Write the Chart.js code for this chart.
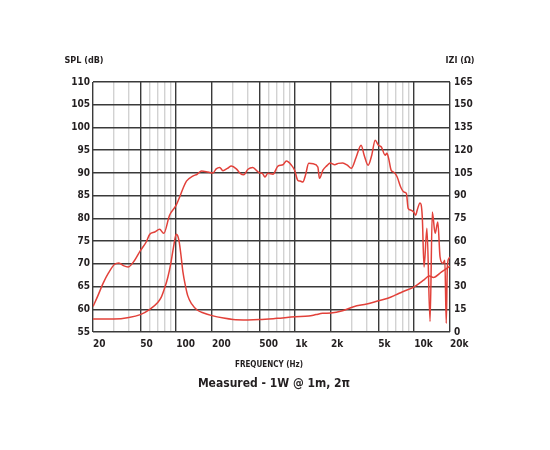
<!DOCTYPE html>
<html>
<head>
<meta charset="utf-8">
<script src="https://cdn.jsdelivr.net/npm/chart.js@4/dist/chart.umd.min.js"></script>
<style>
  html, body { margin: 0; padding: 0; background: #fff; }
  #wrap { width: 550px; height: 450px; }
</style>
</head>
<body>
<div id="wrap"><canvas id="chart" width="550" height="450"></canvas></div>
<script>
// frequency response (Hz / dB)
const splFreq = [20, 22, 24.3, 27, 30.4, 33, 36, 39.4, 44.8, 50, 56, 60, 66, 72.6, 78.6, 88, 100, 107, 115, 122,
  138, 150, 163, 185, 204, 217, 232, 247, 270, 291, 320, 345, 370, 401, 440, 470, 503, 530, 557, 591,
  651, 716, 790, 843, 930, 989, 1050, 1100, 1160, 1220, 1300, 1420, 1550, 1600, 1710, 1850, 1970, 2150, 2300, 2510,
  2740, 2960, 3260, 3580, 3800, 4100, 4400, 4700, 5000, 5300, 5700, 5900, 6100, 6400, 6700, 6900, 7200, 7700, 8200, 8600,
  8900, 9400, 9900, 10300, 10600, 11200, 11700, 12100, 12800, 13600, 14200, 15000, 15800, 16500, 17400, 18100, 18600, 19000, 19600, 20000];
const splDb = [60.6, 63, 65.7, 68, 69.9, 70.2, 69.6, 69.3, 70.8, 72.9, 74.8, 76.5, 77, 77.6, 76.7, 80.7, 82.9, 84.7, 86.8, 88.2,
  89.3, 89.7, 90.4, 90.2, 90.0, 90.9, 91.2, 90.5, 91.0, 91.5, 90.9, 89.9, 89.6, 90.8, 91.2, 90.6, 90.0, 89.9, 89.1, 89.9,
  89.7, 91.5, 91.8, 92.6, 91.7, 90.6, 88.4, 88.2, 88.0, 89.5, 92.1, 92.0, 91.3, 88.8, 90.6, 91.6, 92.2, 91.8, 92.1, 92.2,
  91.7, 91.0, 93.5, 96.1, 93.9, 91.7, 93.9, 97.2, 96.1, 95.7, 93.9, 94.3, 93.2, 90.6, 90.2, 89.9, 89.1, 86.9, 85.8, 85.5,
  82.2, 81.8, 81.4, 80.7, 81.8, 83.4, 80.3, 69.3, 77.8, 57.3, 81.4, 76.7, 79.2, 71.5, 70.1, 70.8, 56.9, 69.3, 71.2, 71.5];

// impedance (Hz / ohm)
const impFreq = [20, 30, 40, 50, 60, 70, 75, 80, 85, 90, 95, 100, 103, 106, 110, 114, 120, 125, 135, 150,
  170, 200, 250, 300, 400, 500, 700, 1000, 1300, 1500, 1700, 2000, 2500, 3100, 4000, 5000, 6000, 7000, 8000, 10000,
  11900, 13400, 14500, 17000, 20000];
const impOhm = [8.6, 8.5, 9.5, 11.5, 15, 19.5, 23, 29, 36, 45, 56, 64.5, 63.5, 59.5, 50, 39.5, 30, 24, 18.5, 14.5,
  12.5, 10.8, 9.2, 8.3, 8, 8.2, 9, 10, 10.5, 11.5, 12.3, 12.5, 14, 16.7, 18.5, 20.6, 22.3, 24.5, 26.6, 29.8,
  34, 36.9, 36, 39.7, 43.5];

// axes
const freqGrid = [20, 30, 40, 50, 60, 70, 80, 90, 100, 200, 300, 400, 500, 600, 700, 800, 900,
  1000, 2000, 3000, 4000, 5000, 6000, 7000, 8000, 9000, 10000, 20000];
const freqMajor = [20, 50, 100, 200, 500, 1000, 2000, 5000, 10000, 20000];
const freqLabels = ['20', '50', '100', '200', '500', '1k', '2k', '5k', '10k', '20k'];

const RED = '#e2413a';
const DARK = '#3a3a3a';
const FONT = "'Liberation Sans Narrow', 'DejaVu Sans Condensed', 'Liberation Sans', sans-serif";

const pts = (xs, ys) => xs.map((x, i) => ({ x: x, y: ys[i] }));

const textPlugin = {
  id: 'texts',
  afterDraw(chart) {
    const c = chart.ctx;
    c.save();
    c.fillStyle = '#231f20';
    c.textBaseline = 'middle';
    c.textAlign = 'center';
    c.font = 'bold 9px ' + FONT;
    c.fillText('SPL (dB)', 84, 61);
    c.fillText('IZI (\u03A9)', 460, 61);
    c.font = 'bold 8px ' + FONT;
    c.fillText('FREQUENCY (Hz)', 269, 365);
    c.font = 'bold 12px ' + FONT;
    c.fillText('Measured - 1W @ 1m, 2\u03C0', 274, 384);
    c.restore();
  }
};

new Chart(document.getElementById('chart'), {
  type: 'line',
  data: {
    datasets: [
      { label: 'SPL', data: pts(splFreq, splDb), yAxisID: 'y', borderColor: RED, borderWidth: 1.5,
        pointRadius: 0, fill: false, cubicInterpolationMode: 'monotone' },
      { label: 'Impedance', data: pts(impFreq, impOhm), yAxisID: 'y2', borderColor: RED, borderWidth: 1.5,
        pointRadius: 0, fill: false, cubicInterpolationMode: 'monotone' }
    ]
  },
  options: {
    responsive: false,
    animation: false,
    layout: { padding: { top: 82, bottom: 0, left: 0, right: 0 } },
    plugins: { legend: { display: false }, tooltip: { enabled: false } },
    scales: {
      x: {
        type: 'logarithmic', min: 20, max: 20000,
        afterBuildTicks: (s) => { s.ticks = freqGrid.map(v => ({ value: v })); },
        afterFit: (s) => { s.height = 118; },
        grid: {
          drawTicks: false,
          color: (ctx) => freqMajor.includes(ctx.tick && ctx.tick.value) ? DARK : '#d2d2d2',
          lineWidth: (ctx) => freqMajor.includes(ctx.tick && ctx.tick.value) ? 1.4 : 1.4
        },
        border: { display: false },
        ticks: {
          autoSkip: false, maxRotation: 0, align: 'start', padding: 6,
          color: '#231f20', font: { family: FONT, size: 10, weight: 'bold' },
          callback: (v) => { const i = freqMajor.indexOf(v); return i >= 0 ? freqLabels[i] : ''; }
        }
      },
      y: {
        position: 'left', min: 55, max: 110,
        afterFit: (s) => { s.width = 93; },
        grid: { drawTicks: false, color: DARK, lineWidth: 1.4 },
        border: { display: false },
        ticks: { stepSize: 5, padding: 3, color: '#231f20', font: { family: FONT, size: 10, weight: 'bold' } }
      },
      y2: {
        position: 'right', min: 0, max: 165,
        afterFit: (s) => { s.width = 100; },
        grid: { display: false, drawTicks: false },
        border: { display: false },
        ticks: { stepSize: 15, padding: 4, color: '#231f20', font: { family: FONT, size: 10, weight: 'bold' } }
      }
    }
  },
  plugins: [textPlugin]
});
</script>
</body>
</html>
